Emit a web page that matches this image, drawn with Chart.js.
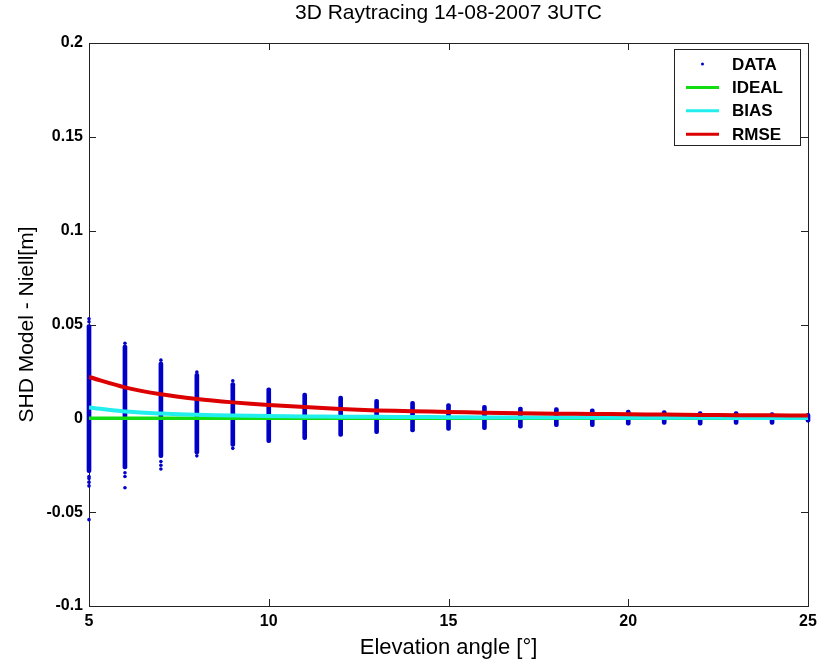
<!DOCTYPE html>
<html>
<head>
<meta charset="utf-8">
<script src="https://cdn.jsdelivr.net/npm/chart.js@4/dist/chart.umd.min.js"></script>
<style>
  body { margin: 0; background: #fff; }
</style>
</head>
<body>
<canvas id="chart" width="830" height="661"></canvas>
<script>
// elevation angles (deg)
const elev = [5, 6, 7, 8, 9, 10, 11, 12, 13, 14, 15, 16, 17, 18, 19, 20, 21, 22, 23, 24, 25];

// dense part of each DATA column (m)
const dataHigh = [0.050, 0.039, 0.030, 0.024, 0.019, 0.0163, 0.0135, 0.0119, 0.0101, 0.009, 0.0078,
                  0.0069, 0.006, 0.0057, 0.005, 0.0044, 0.0041, 0.0036, 0.0036, 0.003, 0.0027];
const dataLow = [-0.029, -0.027, -0.021, -0.019, -0.015, -0.013, -0.0114, -0.0096, -0.0082, -0.0073, -0.0064,
                 -0.006, -0.0052, -0.0045, -0.0045, -0.0036, -0.0032, -0.0036, -0.0032, -0.0032, -0.0021];

// scattered points outside the dense part
const outlierX = [5, 5, 5, 5, 5, 5, 5, 6, 6, 6, 6, 7, 7, 7, 7, 8, 8, 9, 9];
const outlierY = [0.0515, 0.053, -0.031, -0.032, -0.034, -0.036, -0.054, 0.040, -0.029, -0.031, -0.037,
                  0.031, -0.023, -0.025, -0.027, 0.0247, -0.020, 0.020, -0.016];

const ideal = [0, 0, 0, 0, 0, 0, 0, 0, 0, 0, 0, 0, 0, 0, 0, 0, 0, 0, 0, 0, 0];
const bias = [0.0058, 0.0036, 0.0026, 0.0019, 0.0015, 0.0012, 0.001, 0.0009, 0.0008, 0.0007, 0.0006,
              0.0005, 0.0005, 0.0004, 0.0004, 0.0003, 0.0003, 0.0003, 0.0002, 0.0002, 0.0002];
const rmse = [0.022, 0.0165, 0.0128, 0.0103, 0.0085, 0.0071, 0.006, 0.005, 0.0042, 0.0038, 0.0034,
              0.003, 0.0027, 0.0025, 0.0023, 0.0022, 0.002, 0.0018, 0.0017, 0.0016, 0.0015];

const BLUE = '#0000c8';
const FONT = '"Liberation Sans", Arial, sans-serif';
const pts = (ys) => elev.map((x, i) => ({x: x, y: ys[i]}));

// marco de los ejes con ticks hacia dentro (estilo MATLAB)
const framePlugin = {
    id: 'frame',
    beforeDatasetsDraw(chart) {
        const {ctx, chartArea: a, scales: {x, y}} = chart;
        const len = 7;
        ctx.save();
        ctx.strokeStyle = '#222';
        ctx.lineWidth = 1;
        ctx.strokeRect(a.left + 0.5, a.top + 0.5, a.right - a.left, a.bottom - a.top);
        ctx.beginPath();
        x.ticks.forEach((t) => {
            const px = Math.round(x.getPixelForValue(t.value)) + 0.5;
            ctx.moveTo(px, a.bottom); ctx.lineTo(px, a.bottom - len);
            ctx.moveTo(px, a.top); ctx.lineTo(px, a.top + len);
        });
        y.ticks.forEach((t) => {
            const py = Math.round(y.getPixelForValue(t.value)) + 0.5;
            ctx.moveTo(a.left, py); ctx.lineTo(a.left + len, py);
            ctx.moveTo(a.right, py); ctx.lineTo(a.right - len, py);
        });
        ctx.stroke();
        ctx.restore();
    }
};

// leyenda con recuadro dentro del área del gráfico
const legendPlugin = {
    id: 'boxLegend',
    afterDraw(chart) {
        const {ctx, chartArea: a} = chart;
        const items = chart.data.datasets.filter((d) => d.inLegend).reverse();
        const boxR = a.right - 8, boxT = a.top + 6, boxW = 126, rowH = 23.4;
        const boxL = boxR - boxW, boxH = 96;
        ctx.save();
        ctx.fillStyle = '#fff';
        ctx.fillRect(boxL, boxT, boxW, boxH);
        ctx.strokeStyle = '#222';
        ctx.lineWidth = 1;
        ctx.strokeRect(boxL + 0.5, boxT + 0.5, boxW, boxH);
        ctx.font = 'bold 17px ' + FONT;
        ctx.textBaseline = 'middle';
        items.forEach((d, i) => {
            const cy = boxT + 15 + i * rowH;
            if (d.type === 'line') {
                ctx.strokeStyle = d.borderColor;
                ctx.lineWidth = 3;
                ctx.beginPath();
                ctx.moveTo(boxL + 12, cy); ctx.lineTo(boxL + 45, cy);
                ctx.stroke();
            } else {
                ctx.fillStyle = d.backgroundColor;
                ctx.beginPath();
                ctx.arc(boxL + 28.5, cy, 1.5, 0, Math.PI * 2);
                ctx.fill();
            }
            ctx.fillStyle = '#000';
            ctx.fillText(d.label, boxL + 58, cy + 1);
        });
        ctx.restore();
    }
};

new Chart(document.getElementById('chart'), {
    type: 'scatter',
    data: {
        datasets: [
            {
                type: 'line', label: 'RMSE', inLegend: true, order: 1,
                data: pts(rmse), borderColor: '#dd0000', borderWidth: 4,
                pointRadius: 0, tension: 0.3, fill: false,
            },
            {
                type: 'line', label: 'BIAS', inLegend: true, order: 2,
                data: pts(bias), borderColor: '#22eeee', borderWidth: 4,
                pointRadius: 0, tension: 0.3, fill: false,
            },
            {
                type: 'line', label: 'IDEAL', inLegend: true, order: 3,
                data: pts(ideal), borderColor: '#11dd11', borderWidth: 3.5,
                pointRadius: 0, fill: false,
            },
            {
                type: 'scatter', label: 'DATA', inLegend: true, order: 4,
                data: outlierX.map((x, i) => ({x: x, y: outlierY[i]})),
                backgroundColor: BLUE, borderColor: BLUE,
                pointRadius: 1.8, borderWidth: 0, clip: false,
            },
            {
                type: 'bar', label: 'DATA columns', order: 5,
                data: elev.map((x, i) => ({x: x, y: [dataLow[i], dataHigh[i]]})),
                backgroundColor: BLUE, barThickness: 4, grouped: false,
                borderSkipped: false, borderRadius: 2, clip: false,
            },
        ]
    },
    options: {
        responsive: false,
        animation: false,
        layout: { padding: { left: 0, right: 22, top: 0, bottom: 0 } },
        plugins: {
            legend: { display: false },
            tooltip: { enabled: false },
            title: {
                display: true,
                fullSize: false,
                text: '3D Raytracing 14-08-2007 3UTC',
                color: '#000',
                font: { family: FONT, size: 21, weight: 'normal' },
                padding: { top: 0.5, bottom: 17.3 },
            },
        },
        scales: {
            x: {
                type: 'linear',
                min: 5, max: 25,
                offset: false,
                grid: { display: false, offset: false, drawTicks: false },
                border: { display: false },
                ticks: {
                    stepSize: 5, padding: 6, color: '#000',
                    font: { family: FONT, size: 16, weight: 'bold' },
                },
                title: {
                    display: true, text: 'Elevation angle [°]', color: '#000',
                    font: { family: FONT, size: 22 },
                    padding: { top: 0, bottom: 0 },
                },
                afterFit: (scale) => { scale.height = 55; },
            },
            y: {
                type: 'linear',
                min: -0.1, max: 0.2,
                grid: { display: false, drawTicks: false },
                border: { display: false },
                ticks: {
                    stepSize: 0.05, padding: 6, color: '#000',
                    font: { family: FONT, size: 16, weight: 'bold' },
                    callback: (v) => String(+v.toFixed(2)),
                },
                title: {
                    display: true, text: 'SHD Model - Niell[m]', color: '#000',
                    font: { family: FONT, size: 21 },
                    padding: { top: 15, bottom: 0 },
                },
                afterFit: (scale) => { scale.width = 89; },
            },
        },
    },
    plugins: [framePlugin, legendPlugin],
});
</script>
</body>
</html>
